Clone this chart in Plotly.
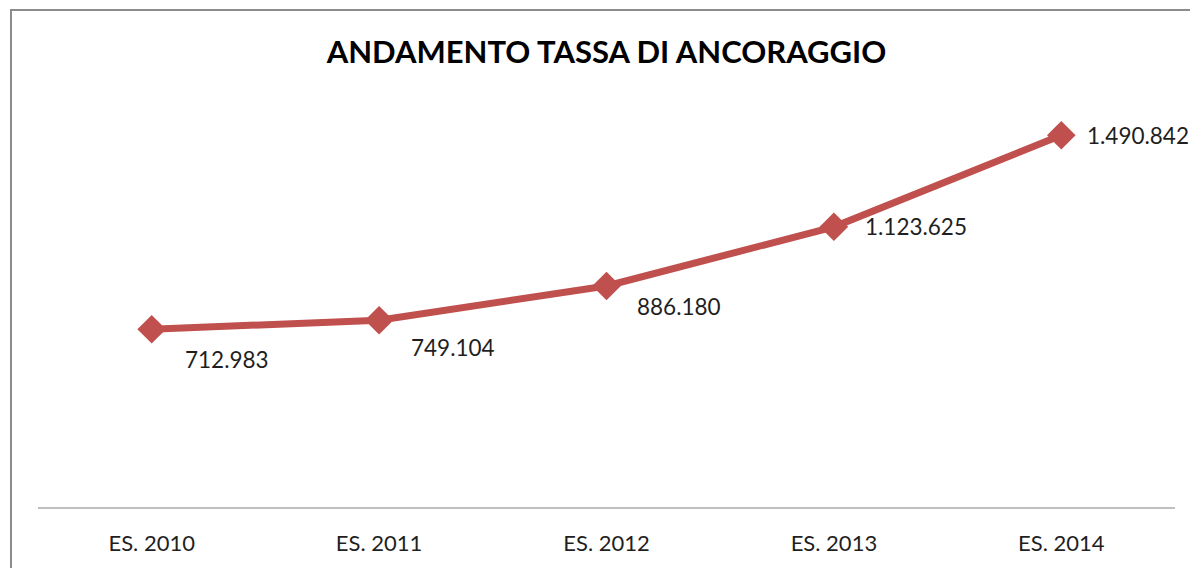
import plotly.graph_objects as go

categories = ["ES. 2010", "ES. 2011", "ES. 2012", "ES. 2013", "ES. 2014"]
values = [712983, 749104, 886180, 1123625, 1490842]
title_text = "ANDAMENTO TASSA DI ANCORAGGIO"

# label offsets (px) relative to each point: (xshift, yshift)
label_offsets = [(31, -30), (30, -27), (28, -20), (29, 0), (24, 0)]

def fmt_it(v):
    return f"{v:,}".replace(",", ".")

RED = "#C0504D"
FONT = "Lato"
OFF = 8  # page body margin

fig = go.Figure()
fig.add_trace(go.Scatter(
    x=categories, y=values, mode="lines+markers",
    line=dict(color=RED, width=7),
    marker=dict(symbol="diamond", size=22, color=RED),
    hoverinfo="skip", showlegend=False,
))

for c, v, (dx, dy) in zip(categories, values, label_offsets):
    fig.add_annotation(x=c, y=v, text=fmt_it(v), showarrow=False,
                       xanchor="left", yanchor="middle", xshift=dx, yshift=dy,
                       font=dict(family=FONT, size=22.5, color="#1f1f1f"))

W, H = 1198, 568
L, T = 38 - OFF, 108 - OFF
pw, ph = 1137, 399
R = W - L - pw
B = H - T - ph

def px_to_paper_x(px):
    return (px - OFF - L) / pw

def px_to_paper_y(py):
    return (T + ph - (py - OFF)) / ph

fig.add_shape(type="rect", xref="paper", yref="paper",
              x0=px_to_paper_x(11), x1=px_to_paper_x(1230),
              y0=px_to_paper_y(600), y1=px_to_paper_y(10),
              line=dict(color="#8C8C8C", width=2), layer="below")

fig.update_layout(
    width=W, height=H,
    margin=dict(l=L, r=R, t=T, b=B),
    paper_bgcolor="white", plot_bgcolor="white",
    title=dict(text="<b>" + title_text + "</b>", x=0.5, xref="paper", xanchor="center",
               y=1 - (52 - OFF) / H, yanchor="middle",
               font=dict(family=FONT, size=31, color="black")),
    xaxis=dict(type="category", showgrid=False, showline=True, linecolor="#BFBFBF",
               linewidth=1.5, ticks="outside", ticklen=16, tickcolor="rgba(0,0,0,0)",
               tickfont=dict(family=FONT, size=22, color="#1f1f1f"),
               range=[-0.5, 4.5], zeroline=False),
    yaxis=dict(range=[0, 1600000], visible=False, showgrid=False, zeroline=False),
)

fig.write_html("out.html")
